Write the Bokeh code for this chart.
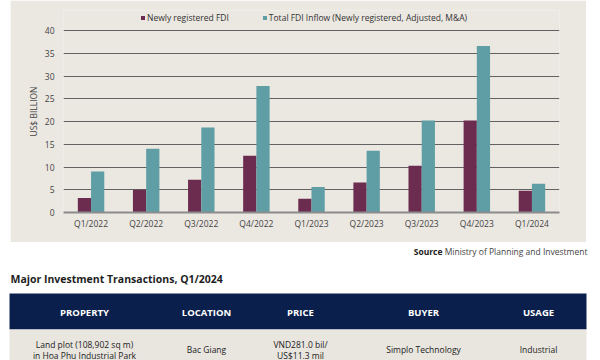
from bokeh.plotting import figure
from bokeh.models import FactorRange, Range1d, Legend, LegendItem, FixedTicker, Spacer, ColumnDataSource
from bokeh.layouts import column, row
from bokeh.transform import dodge
from bokeh.core.properties import value
from bokeh.embed import file_html
from bokeh.resources import INLINE

# ---- data ----
quarters = ["Q1/2022", "Q2/2022", "Q3/2022", "Q4/2022", "Q1/2023",
            "Q2/2023", "Q3/2023", "Q4/2023", "Q1/2024"]
newly_registered = [3.2, 5.0, 7.2, 12.5, 3.0, 6.6, 10.3, 20.2, 4.8]
total_inflow = [9.0, 14.0, 18.7, 27.8, 5.6, 13.6, 20.2, 36.6, 6.3]
y_ticks = [0, 5, 10, 15, 20, 25, 30, 35, 40]
series_names = ["Newly registered FDI", "Total FDI Inflow (Newly registered, Adjusted, M&A)"]
y_label = "US$ BILLION"
source_bold = "Source"
source_text = "Ministry of Planning and Investment"
table_title = "Major Investment Transactions, Q1/2024"
table_headers = ["PROPERTY", "LOCATION", "PRICE", "BUYER", "USAGE"]
table_row = [["Land plot (108,902 sq m)", "in Hoa Phu Industrial Park"],
             ["Bac Giang"],
             ["VND281.0 bil/", "US$11.3 mil"],
             ["Simplo Technology"],
             ["Industrial"]]

FONT = "Open Sans"
MAROON = "#6c2c50"
TEAL = "#609ea6"
BEIGE = "#ebe7e1"
NAVY = "#0b1f4c"

# ---- chart ----
src = ColumnDataSource(dict(q=quarters, newly=newly_registered, total=total_inflow))

# frame extends a little above 40 so the legend can sit inside it
p = figure(width=576, height=242, x_range=FactorRange(*quarters, range_padding=0),
           y_range=Range1d(0, 44.4), output_backend="svg", toolbar_location=None,
           min_border_left=53, min_border_right=27, min_border_top=10, min_border_bottom=30)
p.background_fill_color = BEIGE
p.border_fill_color = BEIGE
p.outline_line_color = None

r1 = p.vbar(x=dodge("q", -0.12, range=p.x_range), top="newly", width=0.24, source=src,
            fill_color=MAROON, line_color=None)
r2 = p.vbar(x=dodge("q", 0.12, range=p.x_range), top="total", width=0.24, source=src,
            fill_color=TEAL, line_color=None)

p.xgrid.grid_line_color = None
p.ygrid.grid_line_color = "#626262"
p.ygrid.grid_line_width = 1
p.yaxis.ticker = FixedTicker(ticks=y_ticks)
p.yaxis.axis_line_color = None
p.yaxis.major_tick_line_color = None
p.yaxis.minor_tick_line_color = None
p.yaxis.major_tick_out = 0
p.yaxis.minor_tick_out = 0
p.yaxis.major_label_standoff = 9
p.yaxis.axis_label = y_label
p.yaxis.axis_label_standoff = 3
p.yaxis.axis_label_text_font = FONT
p.yaxis.axis_label_text_font_size = "8.5px"
p.yaxis.axis_label_text_font_style = "normal"
p.yaxis.axis_label_text_color = "#444444"
p.xaxis.axis_line_color = "#8c8c8c"
p.xaxis.axis_line_width = 2
p.xaxis.major_tick_line_color = None
p.xaxis.minor_tick_line_color = None
p.xaxis.major_tick_out = 0
p.xaxis.minor_tick_out = 0
p.xaxis.major_label_standoff = 5
for ax in (p.xaxis, p.yaxis):
    ax.major_label_text_font = FONT
    ax.major_label_text_font_size = "8.5px"
    ax.major_label_text_color = "#444444"

legend = Legend(items=[LegendItem(label=series_names[0], renderers=[r1]),
                       LegendItem(label=series_names[1], renderers=[r2])],
                location=(77, 189), orientation="horizontal",
                glyph_width=5, glyph_height=5, label_height=8, label_standoff=2,
                spacing=33, padding=0, margin=0,
                background_fill_alpha=0, border_line_color=None,
                label_text_font=FONT, label_text_font_size="8.5px", label_text_color="#333333",
                label_text_baseline="middle")
p.add_layout(legend, "center")

# ---- source, title and table ----
t = figure(width=600, height=118, x_range=Range1d(0, 600), y_range=Range1d(360, 242),
           output_backend="svg", toolbar_location=None,
           min_border=0, min_border_left=0, min_border_right=0, min_border_top=0, min_border_bottom=0)
t.axis.visible = False
t.grid.visible = False
t.outline_line_color = None
t.background_fill_color = "white"
t.border_fill_color = "white"

t.text(x=[587], y=[251], text=[source_text], text_align="right", text_baseline="middle",
       text_font=value(FONT), text_font_size="8.5px", text_color="#444444")
t.text(x=[442], y=[251], text=[source_bold], text_align="right", text_baseline="middle",
       text_font=value(FONT), text_font_size="8.5px", text_font_style="bold", text_color="#222222")
t.text(x=[10], y=[278], text=[table_title], text_align="left", text_baseline="middle",
       text_font=value(FONT), text_font_size="10.5px", text_font_style="bold", text_color="#1e1e1e")

t.quad(left=[9], right=[586], top=[293], bottom=[329], fill_color=NAVY, line_color=None)
t.quad(left=[9], right=[586], top=[329], bottom=[361], fill_color="#e9e5df", line_color=None)

col_x = [84, 206, 300, 423, 538]
t.text(x=col_x, y=[311.5] * 5, text=table_headers, text_align="center", text_baseline="middle",
       text_font=value(FONT), text_font_size="9.5px", text_font_style="bold", text_color="white")
cx, cy, ct = [], [], []
for x, lines in zip(col_x, table_row):
    if len(lines) == 2:
        ys = [343.5, 355]
    else:
        ys = [349]
    for yy, ln in zip(ys, lines):
        cx.append(x); cy.append(yy); ct.append(ln)
t.text(x=cx, y=cy, text=ct, text_align="center", text_baseline="middle",
       text_font=value(FONT), text_font_size="8.5px", text_color="#222222")

layout = column(row(Spacer(width=10, height=242), p), t, spacing=0)

open("out.html", "w").write(file_html(layout, INLINE))
